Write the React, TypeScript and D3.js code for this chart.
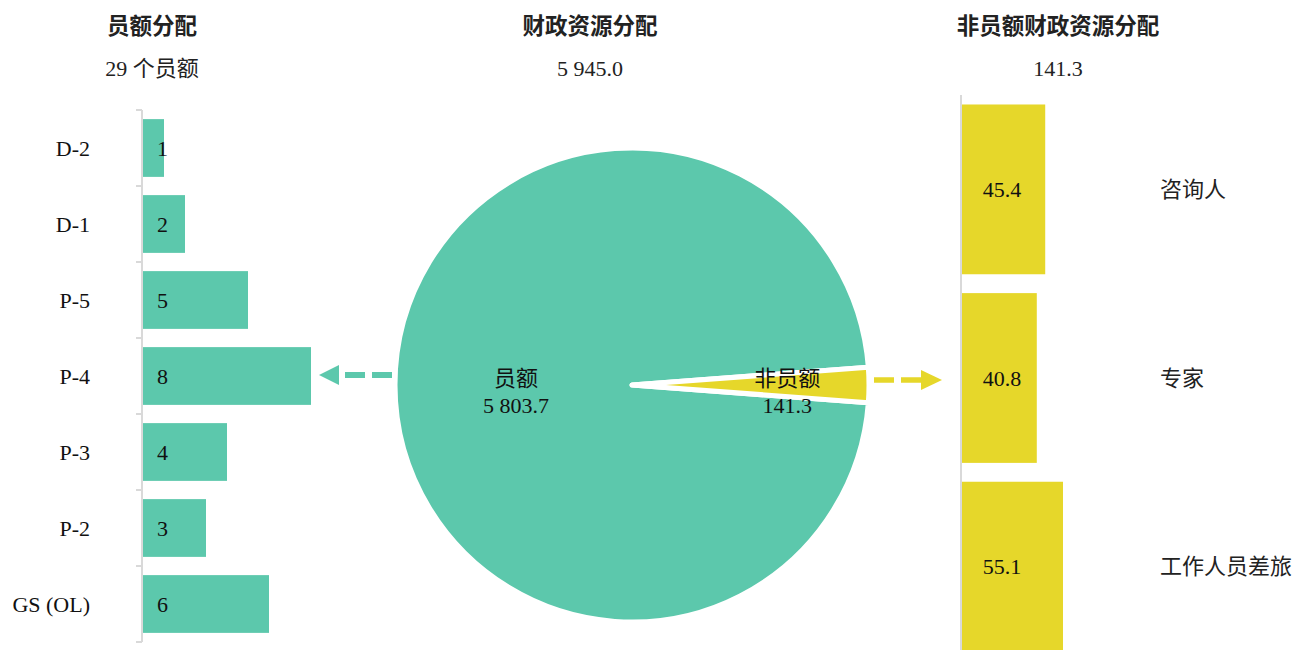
import React, { useEffect, useMemo } from "react";
import * as d3 from "d3";

// staff posts by grade
const gradeLabels = ["D-2", "D-1", "P-5", "P-4", "P-3", "P-2", "GS (OL)"];
const gradeCounts = [1, 2, 5, 8, 4, 3, 6];

// financial resources split
const pieLabels = ["员额", "非员额"];
const pieValues = [5803.7, 141.3];
const pieValueText = ["5 803.7", "141.3"];

// non-post resources
const nonPostLabels = ["咨询人", "专家", "工作人员差旅"];
const nonPostValues = [45.4, 40.8, 55.1];

const panelTitles = ["员额分配", "财政资源分配", "非员额财政资源分配"];
const panelSubtitles = ["29 个员额", "5 945.0", "141.3"];

const WIDTH = 1296;
const HEIGHT = 650;
const GREEN = "#5cc8ac";
const YELLOW = "#e6d72a";
const AXIS = "#d9d9d9";
const FONT = "'Liberation Serif', 'Noto Sans CJK SC', serif";
const CJK = "'Noto Sans CJK SC', sans-serif";

const PIE = { cx: 632, cy: 385, r: 237 };
const LABEL_R = [0.49, 0.655];

export default function App() {
  useEffect(() => {
    document.body.style.margin = "0";
  }, []);

  const left = useMemo(() => {
    const y = d3
      .scaleBand<string>()
      .domain(gradeLabels)
      .range([110, 642])
      .paddingInner(0.24)
      .paddingOuter(0.12);
    const x = d3.scaleLinear().domain([0, 8]).range([143, 311]);
    return { x, y };
  }, []);

  const right = useMemo(() => {
    const y = d3
      .scaleBand<string>()
      .domain(nonPostLabels)
      .range([96, 660])
      .paddingInner(0.1)
      .paddingOuter(0.045);
    const x = d3.scaleLinear().domain([0, 55.1]).range([962, 1063]);
    return { x, y };
  }, []);

  const slices = useMemo(() => {
    const total = d3.sum(pieValues);
    const theta = (2 * Math.PI * pieValues[1]) / total;
    const start = Math.PI / 2 + theta / 2;
    return d3
      .pie<number>()
      .sort(null)
      .startAngle(start)
      .endAngle(start + 2 * Math.PI)(pieValues);
  }, []);

  const arc = d3.arc<d3.PieArcDatum<number>>().innerRadius(0).outerRadius(PIE.r);

  const leftStep = left.y.step();
  const leftTicks = d3.range(gradeLabels.length + 1).map((i) => 110 + i * leftStep);

  const titleX = [152, 590, 1058];

  const leftArrowY = (left.y("P-4") ?? 0) + left.y.bandwidth() / 2 - 1;
  const leftTip = left.x(8) + 8;
  const rightArrowY = 380;
  const rightTip = 942;

  return (
    <svg width={WIDTH} height={HEIGHT} style={{ display: "block" }}>
      <rect width={WIDTH} height={HEIGHT} fill="#fff" />

      {/* titles */}
      {panelTitles.map((t, i) => (
        <g key={t}>
          <text
            x={titleX[i]}
            y={24}
            textAnchor="middle"
            dominantBaseline="central"
            fontFamily={CJK}
            fontWeight="bold"
            fontSize={22.5}
            fill="#222"
          >
            {t}
          </text>
          <text
            x={titleX[i]}
            y={68}
            textAnchor="middle"
            dominantBaseline="central"
            fontFamily={FONT}
            fontSize={22}
            fill="#222"
          >
            {panelSubtitles[i]}
          </text>
        </g>
      ))}

      {/* left bars */}
      <g>
        {gradeLabels.map((g, i) => {
          const y0 = left.y(g) ?? 0;
          const bw = left.y.bandwidth();
          return (
            <g key={g}>
              <rect x={left.x(0)} y={y0} width={left.x(gradeCounts[i]) - left.x(0)} height={bw} fill={GREEN} />
              <text
                x={90}
                y={y0 + bw / 2}
                textAnchor="end"
                dominantBaseline="central"
                fontFamily={FONT}
                fontSize={22}
                fill="#111"
              >
                {g}
              </text>
              <text
                x={157}
                y={y0 + bw / 2}
                dominantBaseline="central"
                fontFamily={FONT}
                fontSize={22}
                fill="#111"
              >
                {gradeCounts[i]}
              </text>
            </g>
          );
        })}
        <line x1={142} x2={142} y1={110} y2={642} stroke={AXIS} strokeWidth={2} />
        {leftTicks.map((t) => (
          <line key={t} x1={136} x2={142} y1={t} y2={t} stroke={AXIS} strokeWidth={2} />
        ))}
      </g>

      {/* pie */}
      <g transform={`translate(${PIE.cx},${PIE.cy})`}>
        {slices.map((s, i) => (
          <path
            key={i}
            d={arc(s) || ""}
            fill={i === 0 ? GREEN : YELLOW}
            stroke="#fff"
            strokeWidth={5}
            strokeLinejoin="round"
          />
        ))}
        {slices.map((s, i) => {
          const lr = PIE.r * LABEL_R[i];
          const c = d3.arc<d3.PieArcDatum<number>>().innerRadius(lr).outerRadius(lr).centroid(s);
          return (
            <g key={"l" + i} fontFamily={FONT} fontSize={22} fill="#111" textAnchor="middle">
              <text x={c[0]} y={c[1] - 7} dominantBaseline="central">
                {pieLabels[i]}
              </text>
              <text x={c[0]} y={c[1] + 20} dominantBaseline="central">
                {pieValueText[i]}
              </text>
            </g>
          );
        })}
      </g>

      {/* arrows */}
      <line
        x1={392}
        x2={leftTip + 20}
        y1={leftArrowY}
        y2={leftArrowY}
        stroke={GREEN}
        strokeWidth={6}
        strokeDasharray="20 7"
      />
      <polygon
        points={`${leftTip},${leftArrowY} ${leftTip + 20},${leftArrowY - 10} ${leftTip + 20},${leftArrowY + 10}`}
        fill={GREEN}
      />
      <line
        x1={874}
        x2={rightTip - 21}
        y1={rightArrowY}
        y2={rightArrowY}
        stroke={YELLOW}
        strokeWidth={5.5}
        strokeDasharray="20 7"
      />
      <polygon
        points={`${rightTip},${rightArrowY} ${rightTip - 21},${rightArrowY - 10} ${rightTip - 21},${rightArrowY + 10}`}
        fill={YELLOW}
      />

      {/* right bars */}
      <g>
        {nonPostLabels.map((n, i) => {
          const y0 = right.y(n) ?? 0;
          const bw = right.y.bandwidth();
          return (
            <g key={n}>
              <rect x={right.x(0)} y={y0} width={right.x(nonPostValues[i]) - right.x(0)} height={bw} fill={YELLOW} />
              <text
                x={1002}
                y={y0 + bw / 2}
                textAnchor="middle"
                dominantBaseline="central"
                fontFamily={FONT}
                fontSize={22}
                fill="#111"
              >
                {nonPostValues[i].toFixed(1)}
              </text>
              <text
                x={1160}
                y={y0 + bw / 2}
                dominantBaseline="central"
                fontFamily={FONT}
                fontSize={22}
                fill="#222"
              >
                {n}
              </text>
            </g>
          );
        })}
        <line x1={961} x2={961} y1={95} y2={HEIGHT} stroke={AXIS} strokeWidth={2} />
      </g>
    </svg>
  );
}
